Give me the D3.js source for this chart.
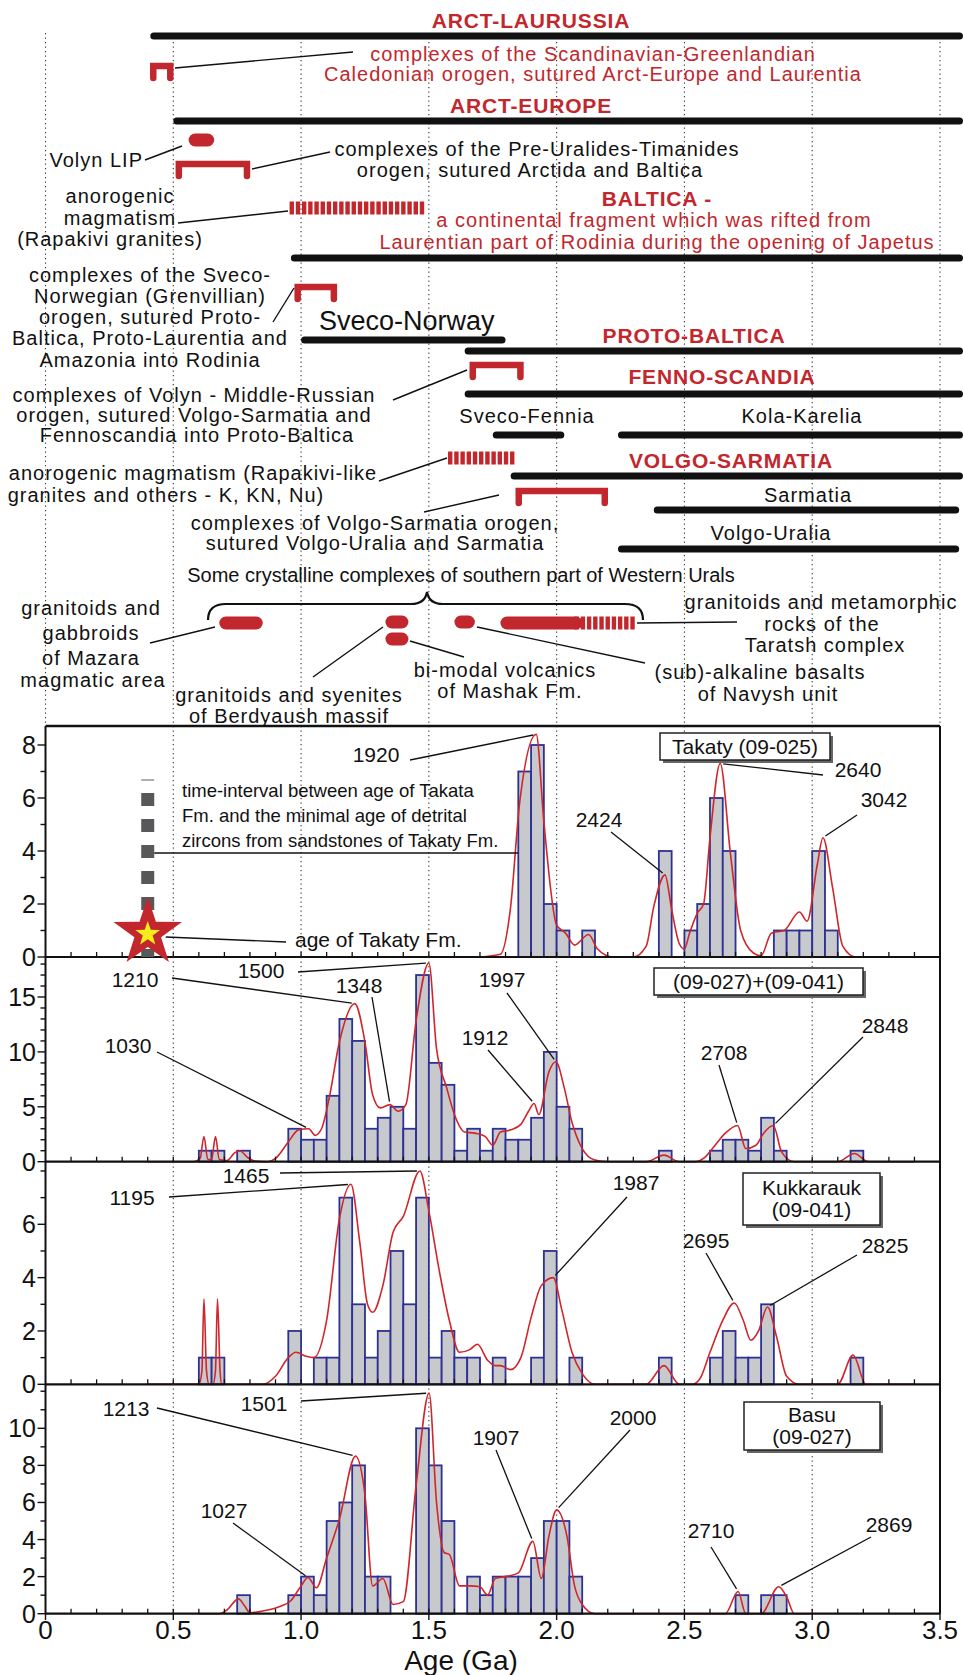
<!DOCTYPE html>
<html>
<head>
<meta charset="utf-8">
<script src="https://cdn.jsdelivr.net/npm/d3@7"></script>
<style>
  html, body { margin: 0; padding: 0; background: #fff; }
  svg { display: block; }
  text { font-family: "Liberation Sans", Arial, Helvetica, sans-serif; }
</style>
</head>
<body>
<svg id="chart" width="963" height="1675"></svg>
<script>
// ---------------- data ----------------
const xTickValues = [0, 0.5, 1.0, 1.5, 2.0, 2.5, 3.0, 3.5];
const xTickLabels = ["0", "0.5", "1.0", "1.5", "2.0", "2.5", "3.0", "3.5"];
const binWidth = 0.05; // Ga

// Terranes / continents (black bars), ages in Ga
const terraneNames = ["ARCT-LAURUSSIA", "ARCT-EUROPE", "BALTICA", "Sveco-Norway", "PROTO-BALTICA",
  "FENNO-SCANDIA", "Sveco-Fennia", "Kola-Karelia", "VOLGO-SARMATIA", "Sarmatia", "Volgo-Uralia"];
const terraneFrom = [0.41, 0.50, 0.96, 1.00, 1.64, 1.64, 1.75, 2.24, 1.82, 2.38, 2.24];
const terraneTo   = [3.59, 3.59, 3.59, 1.80, 3.59, 3.59, 2.03, 3.59, 3.59, 3.575, 3.575];

// Collisional orogens (red brackets)
const orogenNames = ["Caledonian", "Pre-Uralides-Timanides", "Sveco-Norwegian", "Volyn - Middle-Russian", "Volgo-Sarmatia"];
const orogenFrom = [0.41, 0.51, 0.975, 1.66, 1.84];
const orogenTo   = [0.50, 0.80, 1.14, 1.87, 2.20];

// Magmatic events (solid red pills)
const magmaNames = ["Volyn LIP", "Mazara", "Berdyaush", "Mashak", "Navysh", "Taratsh"];
const magmaFrom = [0.56, 0.68, 1.33, 1.33, 1.60, 1.78];
const magmaTo   = [0.66, 0.85, 1.42, 1.42, 1.68, 2.07];

// Anorogenic / metamorphic intervals (hatched red bars)
const hatchNames = ["Rapakivi granites", "Rapakivi-like granites", "Taratsh metamorphics"];
const hatchFrom = [0.955, 1.575, 2.07];
const hatchTo   = [1.49, 1.84, 2.31];

// Detrital zircon histograms: bin start (Ga) and counts
const takatyBins   = [1.85, 1.90, 1.95, 2.00, 2.10, 2.40, 2.50, 2.55, 2.60, 2.65, 2.85, 2.90, 2.95, 3.00, 3.05];
const takatyCounts = [7, 8, 2, 1, 1, 4, 1, 2, 6, 4, 1, 1, 1, 4, 1];

const combinedBins   = [0.60, 0.65, 0.75, 0.95, 1.00, 1.05, 1.10, 1.15, 1.20, 1.25, 1.30, 1.35, 1.40, 1.45, 1.50, 1.55, 1.60,
  1.65, 1.70, 1.75, 1.80, 1.85, 1.90, 1.95, 2.00, 2.05, 2.40, 2.60, 2.65, 2.70, 2.75, 2.80, 2.85, 3.15];
const combinedCounts = [1, 1, 1, 3, 2, 2, 6, 13, 11, 3, 4, 5, 3, 17, 9, 7, 1,
  3, 1, 3, 2, 2, 4, 10, 5, 3, 1, 1, 2, 2, 1, 4, 1, 1];

const kukkaraukBins   = [0.60, 0.65, 0.95, 1.05, 1.10, 1.15, 1.20, 1.25, 1.30, 1.35, 1.40, 1.45, 1.50, 1.55, 1.60, 1.65,
  1.75, 1.90, 1.95, 2.05, 2.40, 2.60, 2.65, 2.70, 2.75, 2.80, 3.15];
const kukkaraukCounts = [1, 1, 2, 1, 1, 7, 3, 1, 2, 5, 3, 7, 1, 2, 1, 1,
  1, 1, 5, 1, 1, 1, 2, 1, 1, 3, 1];

const basuBins   = [0.75, 0.95, 1.00, 1.05, 1.10, 1.15, 1.20, 1.25, 1.30, 1.45, 1.50, 1.55, 1.65, 1.70, 1.75, 1.80,
  1.85, 1.90, 1.95, 2.00, 2.05, 2.70, 2.80, 2.85];
const basuCounts = [1, 1, 2, 1, 5, 6, 8, 2, 2, 10, 8, 5, 2, 1, 2, 2,
  2, 3, 5, 5, 2, 1, 1, 1];

// Probability density curves: [age Ga, relative probability]
const takatyCurve = [[1.70, 0], [1.78, 0.1], [1.82, 1.9], [1.855, 5.8], [1.92, 8.4], [1.95, 5.1], [2.00, 1.2], [2.035, 0.9],
  [2.07, 0.45], [2.125, 0.85], [2.16, 0.3], [2.22, 0], [2.30, 0], [2.35, 0.4], [2.38, 1.9], [2.424, 3.1], [2.45, 1.8],
  [2.48, 0.5], [2.50, 0.3], [2.52, 0.9], [2.55, 1.65], [2.575, 2.0], [2.60, 4.5], [2.64, 7.3], [2.68, 3.9], [2.72, 1.0],
  [2.77, 0.15], [2.80, 0.05], [2.84, 0.9], [2.89, 1.0], [2.95, 1.7], [2.98, 1.35], [3.02, 3.5], [3.042, 4.5],
  [3.08, 2.6], [3.12, 0.4], [3.17, 0], [3.20, 0]];

const combinedCurve = [[0.40, 0], [0.58, 0], [0.605, 0.3], [0.62, 2.3], [0.635, 0.2], [0.65, 0.2], [0.665, 2.3], [0.68, 0.2],
  [0.71, 0.1], [0.74, 0.8], [0.76, 1.0], [0.79, 0.4], [0.82, 0.05], [0.87, 0], [0.90, 0.3], [0.95, 1.8], [0.99, 2.9],
  [1.03, 3.0], [1.055, 2.4], [1.08, 3.0], [1.11, 5.8], [1.15, 10.9], [1.21, 14.4], [1.25, 10.9], [1.28, 6.1], [1.31, 4.9],
  [1.348, 5.2], [1.38, 4.6], [1.41, 5.2], [1.45, 12.8], [1.50, 18.1], [1.53, 10.3], [1.57, 6.7], [1.60, 4.3], [1.64, 2.7],
  [1.68, 2.6], [1.72, 2.3], [1.75, 1.5], [1.78, 2.7], [1.82, 2.9], [1.86, 3.4], [1.89, 4.6], [1.912, 5.3], [1.93, 4.3],
  [1.97, 8.2], [1.997, 9.1], [2.03, 6.7], [2.06, 3.6], [2.10, 1.2], [2.15, 0.15], [2.20, 0], [2.35, 0], [2.42, 0.6],
  [2.48, 0], [2.54, 0], [2.58, 0.4], [2.62, 1.5], [2.66, 2.6], [2.708, 3.3], [2.74, 1.2], [2.78, 1.5], [2.81, 2.6],
  [2.848, 3.3], [2.88, 0.9], [2.93, 0], [3.10, 0], [3.165, 0.75], [3.22, 0], [3.40, 0]];

const kukkaraukCurve = [[0.40, 0], [0.60, 0], [0.612, 0.5], [0.62, 3.2], [0.63, 0.5], [0.64, 0], [0.655, 0], [0.665, 0.5],
  [0.673, 3.2], [0.683, 0.5], [0.69, 0], [0.85, 0], [0.90, 0.3], [0.95, 1.0], [0.98, 1.2], [1.02, 1.05], [1.05, 1.0],
  [1.10, 2.4], [1.15, 6.2], [1.195, 7.5], [1.23, 5.3], [1.26, 3.0], [1.28, 2.7], [1.32, 3.7], [1.36, 5.7], [1.40, 6.3],
  [1.465, 8.0], [1.50, 6.5], [1.54, 4.3], [1.58, 2.4], [1.62, 1.2], [1.66, 1.3], [1.69, 1.5], [1.73, 0.9], [1.76, 0.7],
  [1.78, 0.7], [1.82, 0.55], [1.86, 1.0], [1.90, 2.5], [1.94, 3.7], [1.987, 4.0], [2.02, 2.8], [2.06, 1.2], [2.10, 0.4],
  [2.15, 0], [2.35, 0], [2.42, 0.7], [2.48, 0], [2.53, 0], [2.56, 0.2], [2.60, 1.2], [2.65, 2.4], [2.695, 3.05],
  [2.73, 2.4], [2.76, 1.65], [2.79, 2.0], [2.825, 2.9], [2.86, 1.8], [2.90, 0.3], [2.95, 0], [3.10, 0], [3.16, 1.1],
  [3.21, 0], [3.40, 0]];

const basuCurve = [[0.60, 0], [0.68, 0], [0.71, 0.2], [0.755, 0.8], [0.78, 0.4], [0.80, 0.05], [0.85, 0.15], [0.92, 0.4],
  [0.96, 0.7], [1.00, 1.5], [1.027, 1.95], [1.06, 1.4], [1.10, 3.0], [1.15, 5.1], [1.213, 8.5], [1.25, 6.4], [1.28, 1.5],
  [1.32, 1.9], [1.36, 0.5], [1.40, 0.65], [1.45, 6.9], [1.501, 11.9], [1.53, 6.0], [1.56, 3.3], [1.58, 3.2], [1.62, 1.5],
  [1.66, 1.5], [1.70, 1.45], [1.73, 1.0], [1.76, 1.9], [1.80, 2.0], [1.85, 2.2], [1.907, 3.9], [1.94, 1.9], [1.97, 4.2],
  [2.00, 5.6], [2.04, 4.2], [2.07, 1.5], [2.10, 0.5], [2.15, 0], [2.66, 0], [2.71, 1.2], [2.74, 0], [2.80, 0],
  [2.869, 1.45], [2.90, 0.9], [2.93, 0], [3.00, 0]];

// Labelled age peaks (Ma)
const takatyPeaks    = [1920, 2424, 2640, 3042];
const combinedPeaks  = [1030, 1210, 1348, 1500, 1912, 1997, 2708, 2848];
const kukkaraukPeaks = [1195, 1465, 1987, 2695, 2825];
const basuPeaks      = [1027, 1213, 1501, 1907, 2000, 2710, 2869];

// Age of the Takaty Formation and the youngest detrital zircon population (Ga)
const takatyFmAge = 0.40;
const youngestZirconAge = 1.85;

// ---------------- layout ----------------
const RED = "#c1272d";
const svg = d3.select("#chart");
const x = d3.scaleLinear().domain([0, 3.5]).range([45.5, 940]);

const gGrid = svg.append("g");
const gTop = svg.append("g");

// dotted age guides across the upper scheme
gGrid.selectAll("line.topgrid").data(xTickValues).join("line")
  .attr("x1", d => x(d)).attr("x2", d => x(d))
  .attr("y1", 33).attr("y2", 726)
  .attr("stroke", "#333").attr("stroke-width", 1.1).attr("stroke-dasharray", "1.2,3.3");

// --- terrane bars ---
const terraneRowY = [36, 121, 258, 340, 351, 394, 435, 435, 476, 510, 549];
gTop.selectAll("line.terrane").data(terraneNames).join("line")
  .attr("x1", (d, i) => x(terraneFrom[i]) + 3.5)
  .attr("x2", (d, i) => Math.min(x(terraneTo[i]), 963) - 3.5)
  .attr("y1", (d, i) => terraneRowY[i]).attr("y2", (d, i) => terraneRowY[i])
  .attr("stroke", "#111").attr("stroke-width", 7).attr("stroke-linecap", "round");

// --- orogen brackets ---
const orogenRowY = [66, 164, 287, 365, 491];
gTop.selectAll("path.orogen").data(orogenNames).join("path")
  .attr("d", (d, i) => {
    const a = x(orogenFrom[i]) + 3, b = x(orogenTo[i]) - 3, y0 = orogenRowY[i];
    return `M${a},${y0 + 12} L${a},${y0} L${b},${y0} L${b},${y0 + 12}`;
  })
  .attr("fill", "none").attr("stroke", RED).attr("stroke-width", 6.5)
  .attr("stroke-linecap", "round").attr("stroke-linejoin", "miter");

// --- magmatic pills ---
const magmaRowY = [140, 623, 622, 639, 622, 623];
gTop.selectAll("rect.magma").data(magmaNames).join("rect")
  .attr("x", (d, i) => x(magmaFrom[i]))
  .attr("width", (d, i) => x(magmaTo[i]) - x(magmaFrom[i]) + (d === "Taratsh" ? 8 : 0))
  .attr("y", (d, i) => magmaRowY[i] - 6.5).attr("height", 13)
  .attr("rx", 6.5).attr("fill", RED);

// --- hatched intervals ---
const hatchRowY = [208, 458, 623];
hatchNames.forEach((n, i) => {
  const x0 = x(hatchFrom[i]), x1 = x(hatchTo[i]);
  const step = 6.2;
  const stripes = d3.range(x0, x1 - 2, step);
  gTop.selectAll(null).data(stripes).join("rect")
    .attr("x", d => d).attr("width", d => Math.min(4.4, x1 - d))
    .attr("y", hatchRowY[i] - 6.5).attr("height", 13)
    .attr("fill", RED);
});

// --- curly brace over the Western Urals complexes ---
{
  const a = 208, b = 643, m = 427, yb = 604;
  gTop.append("path")
    .attr("d", `M${a},${yb + 16} Q${a},${yb} ${a + 18},${yb} L${m - 16},${yb} Q${m - 2},${yb} ${m},${yb - 12}` +
               ` Q${m + 2},${yb} ${m + 16},${yb} L${b - 18},${yb} Q${b},${yb} ${b},${yb + 16}`)
    .attr("fill", "none").attr("stroke", "#111").attr("stroke-width", 2.2);
}

// --- leader lines of the scheme ---
const topLeaders = [
  [175, 68, 353, 52], [145, 160, 182, 146], [252, 169, 330, 152], [178, 223, 288, 211],
  [273, 322, 294, 288], [393, 400, 467, 370], [379, 481, 447, 458], [424, 512, 499, 495],
  [215, 627, 150, 643], [383, 627, 313, 677], [410, 641, 464, 657], [477, 627, 645, 663], [637, 623, 737, 622]
];
gTop.selectAll("line.leader").data(topLeaders).join("line")
  .attr("x1", d => d[0]).attr("y1", d => d[1]).attr("x2", d => d[2]).attr("y2", d => d[3])
  .attr("stroke", "#111").attr("stroke-width", 1.4);

// --- scheme texts: [text, x, baseline, anchor, size, weight, colour, letter-spacing] ---
const K = "#111";
const FS = 20, HS = 21, LS = 1.0, HLS = 0.85;
const topTexts = [
  ["ARCT-LAURUSSIA", 531, 28, "middle", HS, "bold", RED, HLS],
  ["complexes of the Scandinavian-Greenlandian", 593, 61, "middle", FS, "normal", RED, LS],
  ["Caledonian orogen, sutured Arct-Europe and Laurentia", 593, 81, "middle", FS, "normal", RED, LS],
  ["ARCT-EUROPE", 531, 113, "middle", HS, "bold", RED, HLS],
  ["Volyn LIP", 143, 167, "end", FS, "normal", K, LS],
  ["complexes of the Pre-Uralides-Timanides", 537, 156, "middle", FS, "normal", K, LS],
  ["orogen, sutured Arctida and Baltica", 530, 177, "middle", FS, "normal", K, LS],
  ["anorogenic", 120, 203, "middle", FS, "normal", K, LS],
  ["magmatism", 120, 225, "middle", FS, "normal", K, LS],
  ["(Rapakivi granites)", 110, 246, "middle", FS, "normal", K, LS],
  ["BALTICA -", 657, 206, "middle", HS, "bold", RED, HLS],
  ["a continental fragment which was rifted from", 654, 227, "middle", FS, "normal", RED, LS],
  ["Laurentian part of Rodinia during the opening of Japetus", 657, 249, "middle", FS, "normal", RED, LS],
  ["complexes of the Sveco-", 150, 282, "middle", FS, "normal", K, LS],
  ["Norwegian (Grenvillian)", 150, 303, "middle", FS, "normal", K, LS],
  ["orogen, sutured Proto-", 150, 324, "middle", FS, "normal", K, LS],
  ["Baltica, Proto-Laurentia and", 150, 345, "middle", FS, "normal", K, LS],
  ["Amazonia into Rodinia", 150, 367, "middle", FS, "normal", K, LS],
  ["Sveco-Norway", 319, 330, "start", 27, "normal", K, 0],
  ["PROTO-BALTICA", 694, 343, "middle", HS, "bold", RED, HLS],
  ["FENNO-SCANDIA", 722, 384, "middle", HS, "bold", RED, HLS],
  ["complexes of Volyn - Middle-Russian", 194, 402, "middle", FS, "normal", K, LS],
  ["orogen, sutured Volgo-Sarmatia and", 194, 422, "middle", FS, "normal", K, LS],
  ["Fennoscandia into Proto-Baltica", 197, 442, "middle", FS, "normal", K, LS],
  ["Sveco-Fennia", 527, 423, "middle", FS, "normal", K, LS],
  ["Kola-Karelia", 802, 423, "middle", FS, "normal", K, LS],
  ["VOLGO-SARMATIA", 731, 468, "middle", HS, "bold", RED, HLS],
  ["anorogenic magmatism (Rapakivi-like", 193, 480, "middle", FS, "normal", K, LS],
  ["granites and others - K, KN, Nu)", 166, 502, "middle", FS, "normal", K, LS],
  ["Sarmatia", 808, 502, "middle", FS, "normal", K, LS],
  ["complexes of Volgo-Sarmatia orogen,", 375, 530, "middle", FS, "normal", K, LS],
  ["sutured Volgo-Uralia and Sarmatia", 375, 550, "middle", FS, "normal", K, LS],
  ["Volgo-Uralia", 771, 540, "middle", FS, "normal", K, LS],
  ["Some crystalline complexes of southern part of Western Urals", 461, 582, "middle", 20, "normal", K, 0],
  ["granitoids and", 91, 615, "middle", FS, "normal", K, LS],
  ["gabbroids", 91, 640, "middle", FS, "normal", K, LS],
  ["of Mazara", 91, 665, "middle", FS, "normal", K, LS],
  ["magmatic area", 93, 687, "middle", FS, "normal", K, LS],
  ["granitoids and syenites", 289, 702, "middle", FS, "normal", K, LS],
  ["of Berdyaush massif", 289, 723, "middle", FS, "normal", K, LS],
  ["bi-modal volcanics", 505, 677, "middle", FS, "normal", K, LS],
  ["of Mashak Fm.", 510, 698, "middle", FS, "normal", K, LS],
  ["(sub)-alkaline basalts", 760, 679, "middle", FS, "normal", K, LS],
  ["of Navysh unit", 768, 701, "middle", FS, "normal", K, LS],
  ["granitoids and metamorphic", 821, 609, "middle", FS, "normal", K, LS],
  ["rocks of the", 822, 631, "middle", FS, "normal", K, LS],
  ["Taratsh complex", 825, 652, "middle", FS, "normal", K, LS]
];
gTop.selectAll("text.scheme").data(topTexts).join("text")
  .attr("x", d => d[1]).attr("y", d => d[2])
  .attr("text-anchor", d => d[3]).attr("font-size", d => d[4])
  .attr("font-weight", d => d[5]).attr("fill", d => d[6])
  .attr("letter-spacing", d => d[7])
  .text(d => d[0]);

// ---------------- histogram panels ----------------
const panels = [
  { bins: takatyBins, counts: takatyCounts, curve: takatyCurve, peaks: takatyPeaks, top: 726,
    y: d3.scaleLinear().domain([0, 8]).range([957, 745]), major: [0, 2, 4, 6, 8], minorMax: 8,
    labelPos: [[376, 762, 410, 760], [599, 827, 611, 832], [858, 777, 823, 775], [884, 807, 857, 815]],
    box: { x: 660, y: 733, w: 170, h: 27, lines: ["Takaty (09-025)"] } },
  { bins: combinedBins, counts: combinedCounts, curve: combinedCurve, peaks: combinedPeaks, top: 957,
    y: d3.scaleLinear().domain([0, 15]).range([1161.7, 997]), major: [0, 5, 10, 15], minorMax: 18,
    labelPos: [[128, 1053, 157, 1052], [135, 987, 172, 978], [359, 993, 372, 997], [261, 978, 298, 972],
               [485, 1045, 488, 1050], [502, 987, 507, 993], [724, 1060, 719, 1065], [885, 1033, 863, 1037]],
    box: { x: 654, y: 968, w: 209, h: 27, lines: ["(09-027)+(09-041)"] } },
  { bins: kukkaraukBins, counts: kukkaraukCounts, curve: kukkaraukCurve, peaks: kukkaraukPeaks, top: 1162,
    y: d3.scaleLinear().domain([0, 6]).range([1384.3, 1224.3]), major: [0, 2, 4, 6], minorMax: 8,
    labelPos: [[132, 1205, 169, 1197], [246, 1183, 280, 1173], [636, 1190, 627, 1197], [706, 1248, 706, 1253],
               [885, 1253, 857, 1255]],
    box: { x: 743, y: 1173, w: 137, h: 52, lines: ["Kukkarauk", "(09-041)"] } },
  { bins: basuBins, counts: basuCounts, curve: basuCurve, peaks: basuPeaks, top: 1384,
    y: d3.scaleLinear().domain([0, 10]).range([1613.7, 1428.3]), major: [0, 2, 4, 6, 8, 10], minorMax: 12,
    labelPos: [[224, 1518, 233, 1523], [126, 1416, 157, 1408], [264, 1411, 301, 1401], [496, 1445, 496, 1450],
               [633, 1425, 630, 1430], [711, 1538, 711, 1547], [889, 1532, 871, 1537]],
    box: { x: 744, y: 1402, w: 136, h: 48, lines: ["Basu", "(09-027)"] } }
];

function curveValueAt(curve, age) {
  for (let i = 1; i < curve.length; i++) {
    if (age <= curve[i][0]) {
      const [a0, v0] = curve[i - 1], [a1, v1] = curve[i];
      return v0 + (v1 - v0) * (age - a0) / (a1 - a0);
    }
  }
  return 0;
}

const gPanels = svg.append("g");
const lineGen = d3.line().curve(d3.curveMonotoneX);

panels.forEach((p, pi) => {
  const g = gPanels.append("g");
  const y0 = p.y(0);

  // dotted age guides
  g.selectAll("line.grid").data(xTickValues.slice(1, -1)).join("line")
    .attr("x1", d => x(d)).attr("x2", d => x(d)).attr("y1", p.top).attr("y2", y0)
    .attr("stroke", "#333").attr("stroke-width", 1.1).attr("stroke-dasharray", "1.2,3.3");

  // histogram bars
  g.selectAll("rect.bar").data(p.bins).join("rect")
    .attr("x", d => x(d)).attr("width", x(binWidth) - x(0))
    .attr("y", (d, i) => p.y(p.counts[i])).attr("height", (d, i) => y0 - p.y(p.counts[i]))
    .attr("fill", "#c8c9cc").attr("stroke", "#2c3193").attr("stroke-width", 1.8);

  // probability density curve
  g.append("path")
    .attr("d", lineGen(p.curve.map(c => [x(c[0]), p.y(c[1])])))
    .attr("fill", "none").attr("stroke", "#d0262b").attr("stroke-width", 1.6);

  // peak labels with leaders
  p.peaks.forEach((pk, k) => {
    const [tx, ty, sx, sy] = p.labelPos[k];
    const age = pk / 1000;
    const ex = x(age), ey = p.y(curveValueAt(p.curve, age));
    const len = Math.hypot(ex - sx, ey - sy), gap = 3;
    g.append("line")
      .attr("x1", sx).attr("y1", sy)
      .attr("x2", ex - (ex - sx) / len * gap).attr("y2", ey - (ey - sy) / len * gap)
      .attr("stroke", "#111").attr("stroke-width", 1.3);
    g.append("text").attr("x", tx).attr("y", ty).attr("text-anchor", "middle")
      .attr("font-size", 21).attr("fill", "#111").text(pk);
  });

  // sample box
  const b = p.box;
  g.append("rect").attr("x", b.x + 3).attr("y", b.y + 3).attr("width", b.w).attr("height", b.h).attr("fill", "#666");
  g.append("rect").attr("x", b.x).attr("y", b.y).attr("width", b.w).attr("height", b.h)
    .attr("fill", "#fff").attr("stroke", "#222").attr("stroke-width", 1.5);
  b.lines.forEach((s, li) => {
    const n = b.lines.length;
    g.append("text").attr("x", b.x + b.w / 2)
      .attr("y", b.y + b.h / 2 + 7 + (li - (n - 1) / 2) * 22.5)
      .attr("text-anchor", "middle").attr("font-size", 21).attr("fill", "#111").text(s);
  });

  // y axis ticks and labels
  const minor = d3.range(0, p.minorMax + 1);
  g.selectAll("line.ytick").data(minor).join("line")
    .attr("x1", d => p.major.includes(d) ? x(0) - 8 : x(0) - 5).attr("x2", x(0))
    .attr("y1", d => p.y(d)).attr("y2", d => p.y(d))
    .attr("stroke", "#111").attr("stroke-width", 1.4);
  g.selectAll("text.ylab").data(p.major).join("text")
    .attr("x", 36).attr("y", d => p.y(d) + 9).attr("text-anchor", "end")
    .attr("font-size", 25).attr("fill", "#111").text(d => d);

  // minor age ticks on the baseline
  g.selectAll("line.xtick").data(d3.range(1, 35).map(v => v / 10)).join("line")
    .attr("x1", d => x(d)).attr("x2", d => x(d)).attr("y1", y0).attr("y2", y0 - 5)
    .attr("stroke", "#111").attr("stroke-width", 1.3);

  // baseline
  g.append("line").attr("x1", x(0)).attr("x2", x(3.5)).attr("y1", y0).attr("y2", y0)
    .attr("stroke", "#111").attr("stroke-width", 2.2);
});

// panel frame
svg.append("line").attr("x1", x(0)).attr("x2", x(3.5)).attr("y1", 726).attr("y2", 726)
  .attr("stroke", "#111").attr("stroke-width", 2.5);
svg.append("line").attr("x1", x(0)).attr("x2", x(0)).attr("y1", 726).attr("y2", 1614)
  .attr("stroke", "#111").attr("stroke-width", 2);
svg.append("line").attr("x1", x(3.5)).attr("x2", x(3.5)).attr("y1", 726).attr("y2", 1614)
  .attr("stroke", "#111").attr("stroke-width", 2);

// ---------------- Takaty Fm. age marker ----------------
{
  const p = panels[0];
  const g = svg.append("g");
  const cx = x(takatyFmAge);
  // time interval bar (dashed)
  g.append("line").attr("x1", cx - 6.5).attr("x2", cx + 6.5).attr("y1", 780).attr("y2", 780)
    .attr("stroke", "#777").attr("stroke-width", 1.2);
  g.selectAll("rect.dash").data(d3.range(793, p.y(0), 26)).join("rect")
    .attr("x", cx - 6.5).attr("width", 13).attr("y", d => d)
    .attr("height", d => Math.min(13, p.y(0) - d)).attr("fill", "#58585a");
  // horizontal line to youngest zircons
  g.append("line").attr("x1", cx + 6.5).attr("x2", x(youngestZirconAge)).attr("y1", 853).attr("y2", 853)
    .attr("stroke", "#111").attr("stroke-width", 1.4);
  ["time-interval between age of Takata", "Fm. and the minimal age of detrital",
   "zircons from sandstones of Takaty Fm."].forEach((s, i) => {
    g.append("text").attr("x", 182).attr("y", 797 + i * 25).attr("font-size", 18.5).attr("fill", "#111").text(s);
  });
  // star
  function star(R, r) {
    const pts = d3.range(10).map(k => {
      const ang = -Math.PI / 2 + k * Math.PI / 5, rad = k % 2 ? r : R;
      return [rad * Math.cos(ang), rad * Math.sin(ang)];
    });
    return "M" + pts.map(q => q.join(",")).join("L") + "Z";
  }
  const cy = 933;
  g.append("path").attr("d", star(36, 14)).attr("transform", `translate(${cx},${cy})`).attr("fill", "#c1272d");
  g.append("path").attr("d", star(13, 5.2)).attr("transform", `translate(${cx},${cy + 1})`).attr("fill", "#f4ec1e");
  g.append("line").attr("x1", cx + 18).attr("y1", 937).attr("x2", 286).attr("y2", 942)
    .attr("stroke", "#111").attr("stroke-width", 1.4);
  g.append("text").attr("x", 295).attr("y", 947).attr("font-size", 21).attr("fill", "#111").text("age of Takaty Fm.");
}

// ---------------- bottom age axis ----------------
{
  const g = svg.append("g");
  g.selectAll("line.major").data(xTickValues).join("line")
    .attr("x1", d => x(d)).attr("x2", d => x(d)).attr("y1", 1614).attr("y2", 1620)
    .attr("stroke", "#111").attr("stroke-width", 1.4);
  g.selectAll("text.xlab").data(xTickValues).join("text")
    .attr("x", d => x(d)).attr("y", 1639).attr("text-anchor", "middle")
    .attr("font-size", 26).attr("fill", "#111").text((d, i) => xTickLabels[i]);
  g.append("text").attr("x", 461).attr("y", 1670).attr("text-anchor", "middle")
    .attr("font-size", 28).attr("fill", "#111").text("Age (Ga)");
}
</script>
</body>
</html>
